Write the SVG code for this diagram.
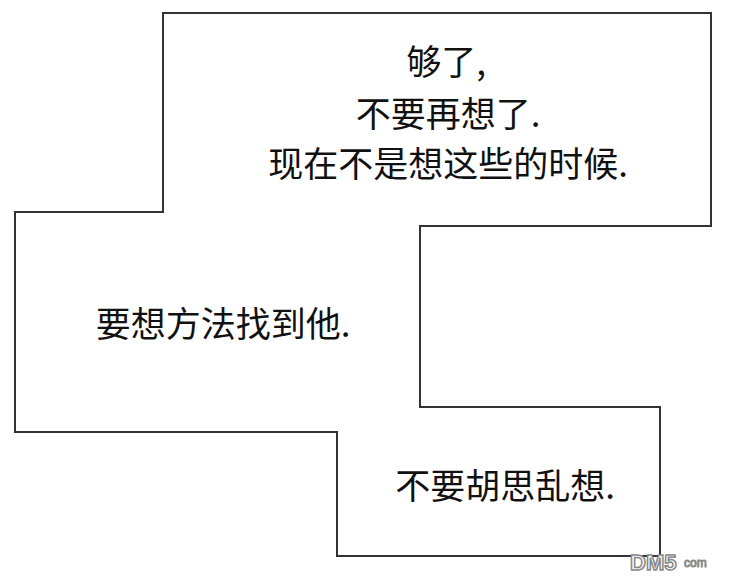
<svg xmlns="http://www.w3.org/2000/svg" width="740" height="583" viewBox="0 0 740 583">
<style>
.t{font-family:"Noto Sans CJK SC","Liberation Sans",sans-serif;font-size:35px;fill:#111;text-anchor:middle}
</style>
<rect width="740" height="583" fill="#fff"/>
<g id="panel">
<polygon points="163,13 711,13 711,226 420,226 420,407 660,407 660,556 337,556 337,432 15,432 15,212 163,212" fill="#fff" stroke="#333" stroke-width="2"/>
</g>
<g id="text1">
<text class="t" x="446" y="75">够了,</text>
<text class="t" x="448" y="127">不要再想了.</text>
<text class="t" x="448" y="177">现在不是想这些的时候.</text>
</g>
<g id="text2"><text class="t" x="223" y="337">要想方法找到他.</text></g>
<g id="text3"><text class="t" x="505" y="499">不要胡思乱想.</text></g>
<g id="watermark"><text x="630" y="570" font-family="Liberation Sans,sans-serif" font-size="22" font-weight="bold" fill="#fff" stroke="#888" stroke-width="1.5">DM5</text><text x="684" y="567" font-family="Liberation Sans,sans-serif" font-size="12" fill="#fff" stroke="#888" stroke-width="1">com</text></g>
</svg>
